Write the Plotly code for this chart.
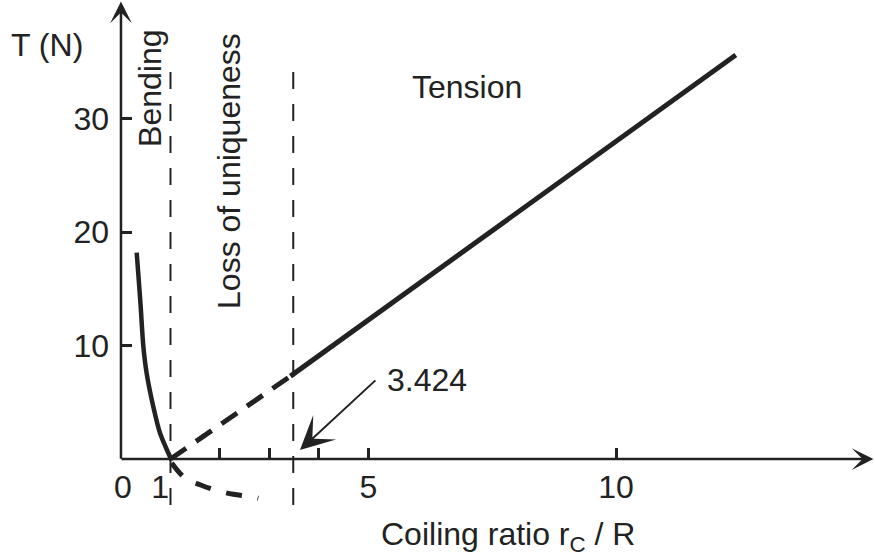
import plotly.graph_objects as go

# ---- data ----
bend_x = [0.317, 0.349, 0.398, 0.451, 0.519, 0.653, 0.788, 0.956, 1.02]
bend_T = [18.18, 16.36, 13.42, 9.96, 7.55, 4.61, 2.29, 0.53, -0.09]

branch_x = [1.024, 1.293, 1.61, 1.945, 2.269, 2.62, 2.774]
branch_T = [-0.35, -1.67, -2.29, -2.79, -3.11, -3.32, -3.46]

unstable_x = [1.0, 3.424]
unstable_T = [0.0, 7.3]

tension_x = [3.424, 12.42]
tension_T = [7.3, 35.6]

boundary_x = [1.0, 3.48]
boundary_T = [34.1, -4.5]

x_tick_vals = [2, 3, 4, 5, 10]
x_tick_text = ["", "", "", "5", "10"]
x_small_vals = [0.04, 0.79]
x_small_text = ["0", "1"]
y_tick_vals = [10, 20, 30]
y_tick_text = ["10", "20", "30"]

X_RANGE = [-2.444, 15.232]
Y_RANGE = [-8.634, 40.44]

INK = "#222222"
FONT = "Liberation Sans, Arial, sans-serif"
FS = 32

fig = go.Figure()

for bx in boundary_x:
    fig.add_trace(go.Scatter(x=[bx, bx], y=boundary_T, mode="lines",
                             line=dict(color=INK, width=2, dash="17px,15px"),
                             hoverinfo="skip", showlegend=False))

fig.add_trace(go.Scatter(x=bend_x, y=bend_T, mode="lines",
                         line=dict(color=INK, width=4.5, shape="spline", smoothing=0.8),
                         showlegend=False))
fig.add_trace(go.Scatter(x=branch_x, y=branch_T, mode="lines",
                         line=dict(color=INK, width=5, shape="spline", dash="16px,16px"),
                         showlegend=False, xaxis="x2"))
fig.add_trace(go.Scatter(x=unstable_x, y=unstable_T, mode="lines",
                         line=dict(color=INK, width=5, dash="19px,12px"),
                         showlegend=False))
fig.add_trace(go.Scatter(x=tension_x, y=tension_T, mode="lines",
                         line=dict(color=INK, width=5),
                         showlegend=False))

xpos = (0 - Y_RANGE[0]) / (Y_RANGE[1] - Y_RANGE[0])
ypos = (0 - X_RANGE[0]) / (X_RANGE[1] - X_RANGE[0])

fig.update_layout(
    width=875, height=557,
    margin=dict(l=0, r=0, t=0, b=0),
    paper_bgcolor="white", plot_bgcolor="white",
    font=dict(family=FONT, size=FS, color=INK),
    xaxis=dict(range=X_RANGE, anchor="free", position=xpos, showline=False,
               showgrid=False, zeroline=False, tickvals=x_tick_vals,
               ticktext=x_tick_text, ticks="inside", ticklen=11, tickwidth=2.5,
               tickcolor=INK, tickfont=dict(size=FS, color=INK, family=FONT),
               ticklabelstandoff=6, fixedrange=True),
    xaxis2=dict(range=X_RANGE, anchor="free", position=xpos, overlaying="x",
                showline=False, showgrid=False, zeroline=False,
                tickvals=x_small_vals, ticktext=x_small_text, ticks="",
                ticklabelstandoff=6,
                tickfont=dict(size=FS, color=INK, family=FONT), side="bottom"),
    yaxis=dict(range=Y_RANGE, anchor="free", position=ypos, showline=False,
               showgrid=False, zeroline=False, tickvals=y_tick_vals,
               ticktext=y_tick_text, ticks="inside", ticklen=10, tickwidth=2.5,
               ticklabelstandoff=12,
               tickcolor=INK, tickfont=dict(size=FS, color=INK, family=FONT)),
)

# axes with arrow heads
fig.add_annotation(x=15.2, y=0, ax=-0.02, ay=0, xref="x", yref="y", axref="x", ayref="y",
                   text="", showarrow=True, arrowhead=3, arrowwidth=2.5, arrowsize=1.45,
                   arrowcolor=INK, standoff=0, startstandoff=0)
fig.add_annotation(x=0, y=40.3, ax=0, ay=-0.12, xref="x", yref="y", axref="x", ayref="y",
                   text="", showarrow=True, arrowhead=3, arrowwidth=2.5, arrowsize=1.45,
                   arrowcolor=INK, standoff=0, startstandoff=0)

# pointer to 3.424
fig.add_annotation(x=3.616, y=0.79, ax=5.17, ay=7.05, xref="x", yref="y", axref="x", ayref="y",
                   text="", showarrow=True, arrowhead=3, arrowwidth=2, arrowsize=2.8,
                   arrowcolor=INK, standoff=0)

labels = [
    ("T (N)", -1.495, 36.48, 0),
    ("Tension", 6.99, 32.78, 0),
    ("3.424", 6.18, 6.96, 0),
    ("Coiling ratio r<sub>C</sub> / R", 7.82, -6.8, 0),
    ("Bending", 0.586, 32.69, -90),
    ("Loss of uniqueness", 2.18, 25.37, -90),
]
for txt, lx, ly, ang in labels:
    fig.add_annotation(x=lx, y=ly, xref="x", yref="y", text=txt, showarrow=False,
                       textangle=ang, font=dict(size=FS, color=INK, family=FONT),
                       xanchor="center", yanchor="middle")

fig.write_html("out.html")
